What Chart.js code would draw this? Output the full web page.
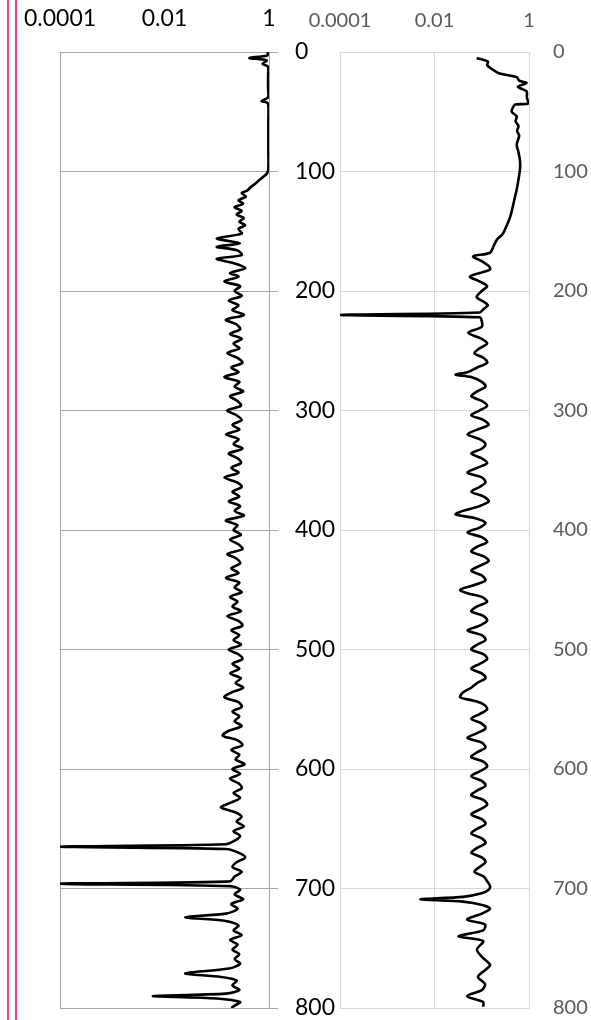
<!DOCTYPE html>
<html><head><meta charset="utf-8">
<script src="https://cdn.jsdelivr.net/npm/chart.js@4.4.0/dist/chart.umd.min.js"></script>
<style>
html,body{margin:0;padding:0;background:#fff;width:591px;height:1020px;overflow:hidden}
#c1{position:absolute;left:0;top:0}
#c2{position:absolute;left:300px;top:0}
.pink{position:absolute;top:0;width:2px;height:1020px;background:#EE3F8A}
</style></head><body>
<canvas id="c1" width="340" height="1020"></canvas>
<canvas id="c2" width="291" height="1020"></canvas>
<div class="pink" style="left:7px"></div>
<div class="pink" style="left:15px"></div>
<script>
// ---- tick labels ----
const xTickValues = [0.0001, 0.01, 1];
const xTickLabels = ['0.0001', '0.01', '1'];
const yTickValues = [0, 100, 200, 300, 400, 500, 600, 700, 800];
const yTickLabels = ['0', '100', '200', '300', '400', '500', '600', '700', '800'];

// ---- left log: depth / value ----
const leftDepth = [
  0,3,5,7,10,12,20,30,38,41,43,60,80,98,
  102,106,110,113,116,118,121,124,127,130,133,136,139,142,145,148,152,156,160,163,166,170,173,177,181,185,188,192,196,
  200,204,208,212,216,220,224,228,232,236,
  240,244,248,252,256,260,264,268,272,276,
  280,284,288,292,296,300,304,308,312,316,
  320,324,328,332,336,340,344,348,352,356,
  360,364,368,372,376,380,384,388,392,396,
  400,404,408,412,416,420,424,428,432,436,
  440,444,448,452,456,460,464,468,472,476,
  480,484,488,492,496,500,504,508,512,516,
  520,524,528,532,536,540,544,548,552,556,
  560,564,568,572,576,580,584,588,592,596,
  600,604,608,612,616,620,624,628,632,636,
  640,644,648,652,656,660,
  663,665,667,670,674,678,682,686,690,694,696,698,701,705,709,713,717,721,724,727,
  731,735,739,743,747,751,755,759,763,767,771,774,777,781,785,788,790,792,795,798,800
];
const leftValue = [
  0.95,0.93,0.42,0.90,0.75,0.95,0.96,0.96,0.96,0.72,0.96,0.97,0.97,0.97,
  0.90,0.70,0.55,0.45,0.38,0.30,0.36,0.26,0.32,0.22,0.30,0.24,0.33,0.27,0.35,0.26,0.30,0.10,0.28,0.10,0.25,0.30,0.10,0.22,0.35,0.18,0.26,0.14,0.28,
  0.22,0.30,0.17,0.26,0.20,0.33,0.15,0.24,0.28,0.18,
  0.30,0.21,0.27,0.16,0.25,0.31,0.19,0.26,0.14,0.27,
  0.22,0.32,0.18,0.25,0.29,0.16,0.24,0.30,0.20,0.27,
  0.15,0.26,0.21,0.31,0.17,0.25,0.29,0.19,0.26,0.14,
  0.24,0.30,0.20,0.27,0.17,0.28,0.22,0.33,0.15,0.25,
  0.21,0.29,0.18,0.26,0.31,0.16,0.24,0.28,0.19,0.26,
  0.15,0.27,0.22,0.30,0.18,0.25,0.20,0.29,0.16,0.26,
  0.31,0.19,0.27,0.21,0.29,0.17,0.26,0.31,0.20,0.27,
  0.18,0.29,0.23,0.32,0.19,0.14,0.26,0.30,0.20,0.27,
  0.22,0.30,0.17,0.13,0.25,0.31,0.19,0.27,0.23,0.34,
  0.20,0.28,0.18,0.26,0.30,0.21,0.28,0.19,0.12,0.22,
  0.30,0.24,0.33,0.21,0.28,0.22,
  0.15,0.0001,0.15,0.26,0.35,0.24,0.20,0.30,0.22,0.18,0.0001,0.18,0.28,0.22,0.32,0.19,0.25,0.15,0.025,0.14,
  0.26,0.21,0.30,0.18,0.25,0.20,0.27,0.22,0.28,0.17,0.025,0.12,0.24,0.20,0.27,0.15,0.006,0.10,0.28,0.22,0.19
];

// ---- right log: depth / value ----
const rightDepth = [
  5,8,11,14,18,21,24,26,29,33,38,43,44,47,50,54,58,62,66,70,74,78,84,90,96,
  103,110,115,122,130,138,145,152,157,162,168,171,175,179,182,185,188,192,196,200,
  205,209,212,215,218,220,222,225,230,235,
  240,244,248,252,256,260,264,268,270,272,
  276,280,284,288,292,296,300,304,308,312,
  316,320,324,328,332,336,340,344,348,352,
  356,360,364,368,372,376,380,384,387,390,
  394,398,402,406,410,414,418,422,426,430,
  434,438,442,446,450,453,456,460,464,468,
  472,476,480,484,488,492,496,500,504,508,
  512,516,520,524,528,532,536,540,543,546,
  550,554,558,562,566,570,574,578,582,586,
  590,594,598,602,606,610,614,618,622,626,
  630,634,638,642,646,650,654,658,662,666,
  670,674,678,682,686,690,694,698,
  701,704,707,709,711,714,717,721,726,730,735,740,744,751,757,764,768,774,780,785,790,795,799
];
const rightValue = [
  0.078,0.135,0.13,0.16,0.24,0.55,0.62,0.89,0.58,0.89,0.90,0.97,0.51,0.45,0.43,0.55,0.52,0.60,0.56,0.62,0.58,0.55,0.60,0.64,0.65,
  0.62,0.58,0.55,0.50,0.45,0.40,0.34,0.28,0.21,0.18,0.15,0.066,0.10,0.14,0.15,0.09,0.056,0.09,0.13,0.10,
  0.078,0.11,0.135,0.11,0.09,0.0001,0.09,0.10,0.10,0.052,
  0.10,0.13,0.09,0.07,0.11,0.13,0.08,0.05,0.028,0.06,
  0.10,0.12,0.08,0.06,0.10,0.13,0.09,0.06,0.11,0.14,
  0.08,0.05,0.09,0.12,0.10,0.06,0.10,0.13,0.08,0.05,
  0.10,0.12,0.09,0.06,0.11,0.14,0.09,0.04,0.028,0.07,
  0.12,0.09,0.05,0.10,0.13,0.08,0.06,0.11,0.14,0.09,
  0.06,0.10,0.12,0.07,0.035,0.05,0.10,0.13,0.08,0.06,
  0.11,0.13,0.09,0.05,0.10,0.12,0.08,0.06,0.11,0.13,
  0.09,0.06,0.10,0.12,0.08,0.06,0.04,0.035,0.07,0.11,
  0.13,0.09,0.06,0.10,0.12,0.08,0.05,0.10,0.12,0.08,
  0.06,0.11,0.13,0.09,0.06,0.10,0.12,0.08,0.06,0.11,
  0.13,0.09,0.06,0.10,0.12,0.08,0.06,0.10,0.12,0.08,
  0.06,0.10,0.12,0.09,0.07,0.11,0.13,0.15,
  0.14,0.10,0.04,0.005,0.04,0.107,0.15,0.10,0.049,0.117,0.107,0.032,0.107,0.079,0.10,0.15,0.12,0.083,0.117,0.10,0.049,0.107,0.107
];

function pts(depths, values) {
  return depths.map((d, i) => ({ x: values[i], y: d }));
}

function makeChart(id, depths, values, cfg) {
  const font = { family: 'Lato', size: cfg.fontSize, lineHeight: 1 };
  return new Chart(document.getElementById(id), {
    type: 'line',
    data: { datasets: [{
      data: pts(depths, values),
      borderColor: '#000', borderWidth: 2.6, tension: 0.3,
      pointRadius: 0, fill: false
    }]},
    options: {
      responsive: false, animation: false, devicePixelRatio: 1,
      indexAxis: 'y',
      layout: { padding: { left: cfg.padLeft, right: 0, top: 0, bottom: 12 } },
      plugins: { legend: { display: false }, tooltip: { enabled: false } },
      scales: {
        x: {
          type: 'logarithmic', position: 'top', min: 0.0001, max: 1,
          afterBuildTicks: s => { s.ticks = xTickValues.map(v => ({ value: v })); },
          afterFit: s => { s.height = 52; s.paddingLeft = 0; s.paddingRight = 0; },
          ticks: { autoSkip: false, maxRotation: 0, minRotation: 0, padding: cfg.xPad,
                   color: cfg.textColor, font: font,
                   callback: (v, i) => xTickLabels[i] },
          grid: { drawTicks: false, lineWidth: 1,
                  color: ctx => (cfg.hideMidGrid && ctx.tick && ctx.tick.value === 0.01) ? 'rgba(0,0,0,0)' : cfg.gridColor },
          border: { display: true, color: cfg.gridColor, width: 1 }
        },
        y: {
          type: 'linear', position: 'right', reverse: true, min: 0, max: 800,
          afterBuildTicks: s => { s.ticks = yTickValues.map(v => ({ value: v })); },
          afterFit: s => { s.width = cfg.yWidth; s.paddingTop = 0; s.paddingBottom = 0; },
          ticks: { autoSkip: false, padding: cfg.yPad, color: cfg.textColor, font: font,
                   callback: (v, i) => yTickLabels[i] },
          grid: { drawTicks: cfg.yTicks, tickLength: 9, color: cfg.gridColor, lineWidth: 1 },
          border: { display: true, color: cfg.gridColor, width: 1 }
        }
      }
    }
  });
}

makeChart('c1', leftDepth, leftValue, {
  padLeft: 60, yWidth: 71, yPad: 17, xPad: 22, fontSize: 23,
  textColor: '#000000', gridColor: '#A6A6A6', hideMidGrid: true, yTicks: true
});
makeChart('c2', rightDepth, rightValue, {
  padLeft: 40, yWidth: 62, yPad: 24, xPad: 21, fontSize: 20,
  textColor: '#595959', gridColor: '#D9D9D9', hideMidGrid: false, yTicks: false
});
</script></body></html>
